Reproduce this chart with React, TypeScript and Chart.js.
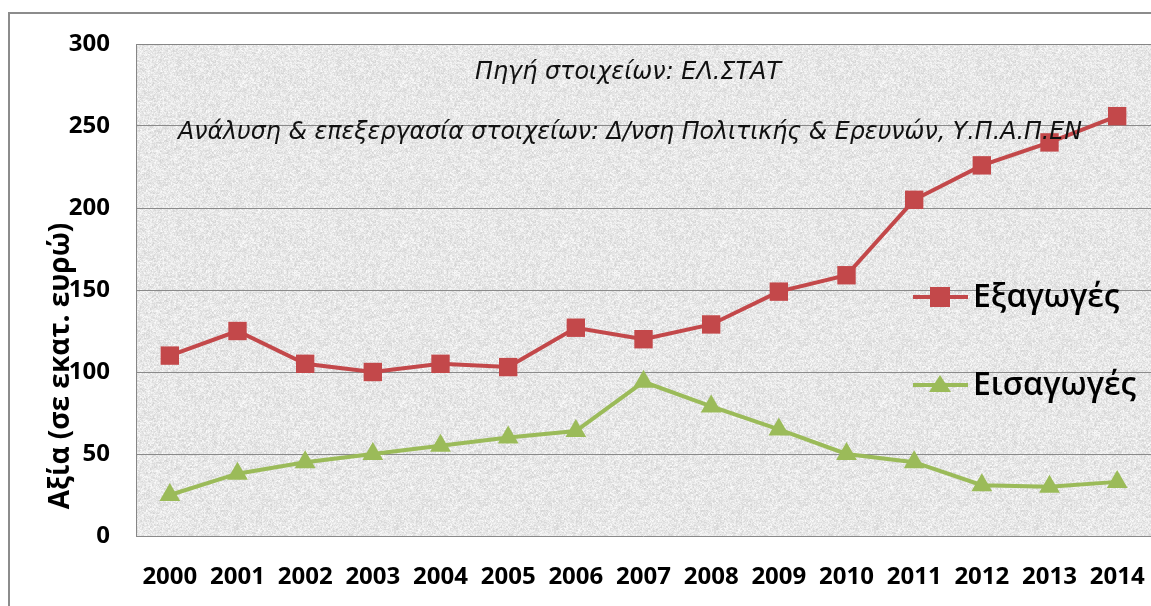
import React, { useEffect, useRef } from "react";
import { Chart, registerables } from "chart.js";

Chart.register(...registerables);

const years = ["2000","2001","2002","2003","2004","2005","2006","2007","2008","2009","2010","2011","2012","2013","2014"];
const exportsVals = [110,125,105,100,105,103,127,120,129,149,159,205,226,240,256];
const importsVals = [25,38,45,50,55,60,64,94,79,65,50,45,31,30,33];
const yTicks = [0,50,100,150,200,250,300];
const seriesNames = ["Εξαγωγές", "Εισαγωγές"];
const yTitle = "Αξία (σε εκατ. ευρώ)";
const note1 = "Πηγή στοιχείων: ΕΛ.ΣΤΑΤ";
const note2 = "Ανάλυση & επεξεργασία στοιχείων: Δ/νση Πολιτικής & Ερευνών, Υ.Π.Α.Π.ΕΝ";

const RED = "#C3484A";
const GREEN = "#9BBB59";

function makeTexture(): CanvasPattern | string {
  const c = document.createElement("canvas");
  c.width = 160; c.height = 160;
  const g = c.getContext("2d");
  if (!g) return "#e6e6e6";
  const img = g.createImageData(160, 160);
  for (let y = 0; y < 160; y++) {
    for (let x = 0; x < 160; x++) {
      const h = Math.sin(x * 12.9898 + y * 78.233) * 43758.5453;
      const n = h - Math.floor(h);
      const h2 = Math.sin((x >> 1) * 4.1 + (y >> 1) * 9.7) * 24634.6345;
      const n2 = h2 - Math.floor(h2);
      const v = Math.min(255, Math.round(231 + (n - 0.5) * 26 + (n2 - 0.5) * 18));
      const i = (y * 160 + x) * 4;
      img.data[i] = v; img.data[i + 1] = v; img.data[i + 2] = v; img.data[i + 3] = 255;
    }
  }
  g.putImageData(img, 0, 0);
  const ctx = document.createElement("canvas").getContext("2d");
  return (ctx && ctx.createPattern(c, "repeat")) || "#e6e6e6";
}

export default function App() {
  const ref = useRef<HTMLCanvasElement | null>(null);
  useEffect(() => {
    if (!ref.current) return;
    const texture = makeTexture();
    const decor = {
      id: "decor",
      beforeDraw(chart: any) {
        const ctx = chart.ctx;
        const a = chart.chartArea;
        ctx.save();
        ctx.fillStyle = "#ffffff";
        ctx.fillRect(0, 0, chart.width, chart.height);
        ctx.strokeStyle = "#8c8c8c";
        ctx.lineWidth = 2;
        ctx.strokeRect(9, 13, 1300, 800);
        ctx.fillStyle = texture as any;
        ctx.fillRect(a.left, a.top, a.right - a.left + 2, a.bottom - a.top);
        ctx.restore();
      },
      afterDraw(chart: any) {
        const ctx = chart.ctx;
        const a = chart.chartArea;
        ctx.save();
        ctx.strokeStyle = "#868686";
        ctx.lineWidth = 1;
        ctx.beginPath();
        ctx.moveTo(a.right + 5, a.top + 0.5);
        ctx.lineTo(a.left + 0.5, a.top + 0.5);
        ctx.lineTo(a.left + 0.5, a.bottom + 0.5);
        ctx.stroke();
        ctx.fillStyle = "#000";
        ctx.font = "bold 28px 'Open Sans'";
        ctx.textAlign = "center";
        ctx.textBaseline = "middle";
        ctx.translate(61, 366);
        ctx.rotate(-Math.PI / 2);
        ctx.fillText(yTitle, 0, 0, 302);
        ctx.restore();
      },
      afterDatasetsDraw(chart: any) {
        const ctx = chart.ctx;
        ctx.save();
        ctx.fillStyle = "#111";
        ctx.font = "italic 24px 'DejaVu Sans'";
        ctx.textAlign = "center";
        ctx.textBaseline = "middle";
        ctx.fillText(note1, 628, 73, 306);
        ctx.fillText(note2, 630, 133, 904);
        const items = [
          { y: 297, color: RED, style: "rect", label: seriesNames[0] },
          { y: 385, color: GREEN, style: "triangle", label: seriesNames[1] },
        ];
        for (const it of items) {
          ctx.strokeStyle = it.color;
          ctx.lineWidth = 4;
          ctx.beginPath();
          ctx.moveTo(913, it.y);
          ctx.lineTo(968, it.y);
          ctx.stroke();
          ctx.fillStyle = it.color;
          if (it.style === "rect") {
            ctx.fillRect(930, it.y - 10, 20, 20);
          } else {
            ctx.beginPath();
            ctx.moveTo(940, it.y - 10);
            ctx.lineTo(951, it.y + 7);
            ctx.lineTo(929, it.y + 7);
            ctx.closePath();
            ctx.fill();
          }
          ctx.fillStyle = "#000";
          ctx.font = "600 32px 'Open Sans'";
          ctx.textAlign = "left";
          ctx.textBaseline = "middle";
          ctx.fillText(it.label, 973, it.y + 1);
        }
        ctx.restore();
      },
    };
    const chart = new Chart(ref.current, {
      type: "line",
      data: {
        labels: years,
        datasets: [
          {
            label: seriesNames[0],
            data: exportsVals,
            borderColor: RED,
            backgroundColor: RED,
            borderWidth: 4,
            pointStyle: "rect",
            pointRadius: 13,
            pointBorderWidth: 0,
            tension: 0,
          },
          {
            label: seriesNames[1],
            data: importsVals,
            borderColor: GREEN,
            backgroundColor: GREEN,
            borderWidth: 4,
            pointStyle: "triangle",
            pointRadius: 12,
            pointBorderWidth: 0,
            tension: 0,
          },
        ],
      },
      options: {
        responsive: false,
        animation: false,
        layout: { autoPadding: false, padding: { top: 44, right: 0, left: 0, bottom: 0 } },
        plugins: { legend: { display: false }, tooltip: { enabled: false } },
        scales: {
          x: {
            offset: true,
            grid: { display: false, drawTicks: false },
            border: { display: false },
            ticks: {
              color: "#000",
              font: { family: "'Open Sans'", size: 24, weight: "bold" },
              padding: 27,
              maxRotation: 0,
              autoSkip: false,
            },
            afterFit: (s: any) => { s.height = 70; s.paddingLeft = 0; s.paddingRight = 0; },
          },
          y: {
            min: 0,
            max: 300,
            afterBuildTicks: (s: any) => { s.ticks = yTicks.map((v) => ({ value: v })); },
            grid: { color: "#8a8a8a", lineWidth: 1, drawTicks: false },
            border: { display: false },
            ticks: {
              color: "#000",
              font: { family: "'Open Sans'", size: 24, weight: "bold" },
              padding: 26,
            },
            afterFit: (s: any) => { s.width = 136; s.paddingTop = 0; s.paddingBottom = 0; },
          },
        },
      },
      plugins: [decor],
    });
    return () => chart.destroy();
  }, []);
  return (
    <div style={{ position: "absolute", left: 0, top: 0, width: 1151, height: 606 }}>
      <canvas ref={ref} width={1151} height={606} style={{ width: 1151, height: 606, display: "block" }} />
    </div>
  );
}
